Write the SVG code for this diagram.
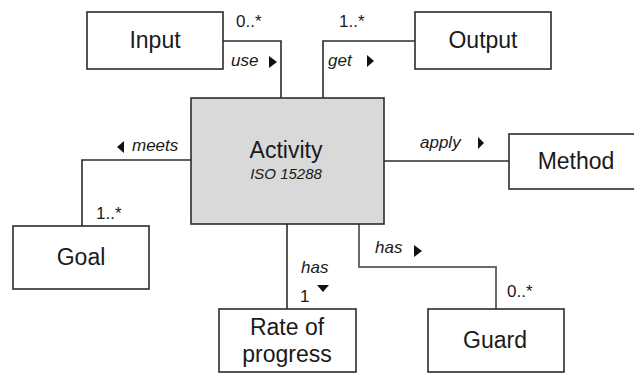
<svg xmlns="http://www.w3.org/2000/svg" width="634" height="374" viewBox="0 0 634 374">
<style>
.box{fill:#fff;stroke:#2b2b2b;stroke-width:1.6}
.act{fill:#d9d9d9;stroke:#2b2b2b;stroke-width:1.6}
.t{font-family:"Liberation Sans",Arial,sans-serif;font-size:23px;fill:#1a1a1a;text-anchor:middle}
.lbl{font-family:"Liberation Sans",Arial,sans-serif;font-size:17px;font-style:italic;fill:#1a1a1a}
.iso{font-family:"Liberation Sans",Arial,sans-serif;font-size:15px;font-style:italic;fill:#1a1a1a;text-anchor:middle}
.m{font-family:"Liberation Sans",Arial,sans-serif;font-size:17px;fill:#1a1a1a}
.c{fill:none;stroke:#2b2b2b;stroke-width:1.6}
.cg{fill:none;stroke:#6a6a6a;stroke-width:2}
.tri{fill:#111}
</style>
<rect width="634" height="374" fill="#fff"/>
<g id="connectors">
<polyline class="c" points="223,41 281,41 281,98"/>
<polyline class="c" points="415,41 323,41 323,98"/>
<line class="c" x1="384" y1="161" x2="509" y2="161"/>
<polyline class="c" points="191,160 82,160 82,226"/>
<line class="c" x1="287" y1="224" x2="287" y2="309"/>
<polyline class="cg" points="359,224 359,267 496,267 496,309"/>
<text class="m" x="236" y="27">0..*</text>
<text class="lbl" x="231" y="66">use</text>
<polygon class="tri" points="269,56 277,62 269,68"/>
<text class="m" x="339" y="27">1..*</text>
<text class="lbl" x="328" y="66">get</text>
<polygon class="tri" points="367,55 374,61 367,67"/>
<text class="lbl" x="420" y="148">apply</text>
<polygon class="tri" points="478,137 484,143 478,149"/>
<text class="lbl" x="132" y="151">meets</text>
<polygon class="tri" points="124,141 117,147 124,153"/>
<text class="m" x="96" y="219">1..*</text>
<text class="lbl" x="301" y="273">has</text>
<text class="m" x="300" y="302">1</text>
<polygon class="tri" points="317,285 329,285 323,292"/>
<text class="lbl" x="375" y="253">has</text>
<polygon class="tri" points="414,245 422,251 414,257"/>
<text class="m" x="507" y="297">0..*</text>
</g>
<g id="input"><rect class="box" x="87" y="12" width="136" height="57"/><text class="t" x="155" y="48">Input</text></g>
<g id="output"><rect class="box" x="415" y="12" width="136" height="57"/><text class="t" x="483" y="48">Output</text></g>
<g id="activity"><rect class="act" x="191" y="98" width="193" height="126"/><text class="t" x="286" y="158">Activity</text><text class="iso" x="286" y="179">ISO 15288</text></g>
<g id="method"><rect class="box" x="509" y="134" width="136" height="55"/><text class="t" x="576" y="169">Method</text></g>
<g id="goal"><rect class="box" x="13" y="226" width="136" height="63"/><text class="t" x="81" y="265">Goal</text></g>
<g id="rate"><rect class="box" x="219" y="309" width="137" height="63"/><text class="t" x="287" y="335">Rate of</text><text class="t" x="287" y="362">progress</text></g>
<g id="guard"><rect class="box" x="428" y="309" width="136" height="63"/><text class="t" x="495" y="348">Guard</text></g>
</svg>
